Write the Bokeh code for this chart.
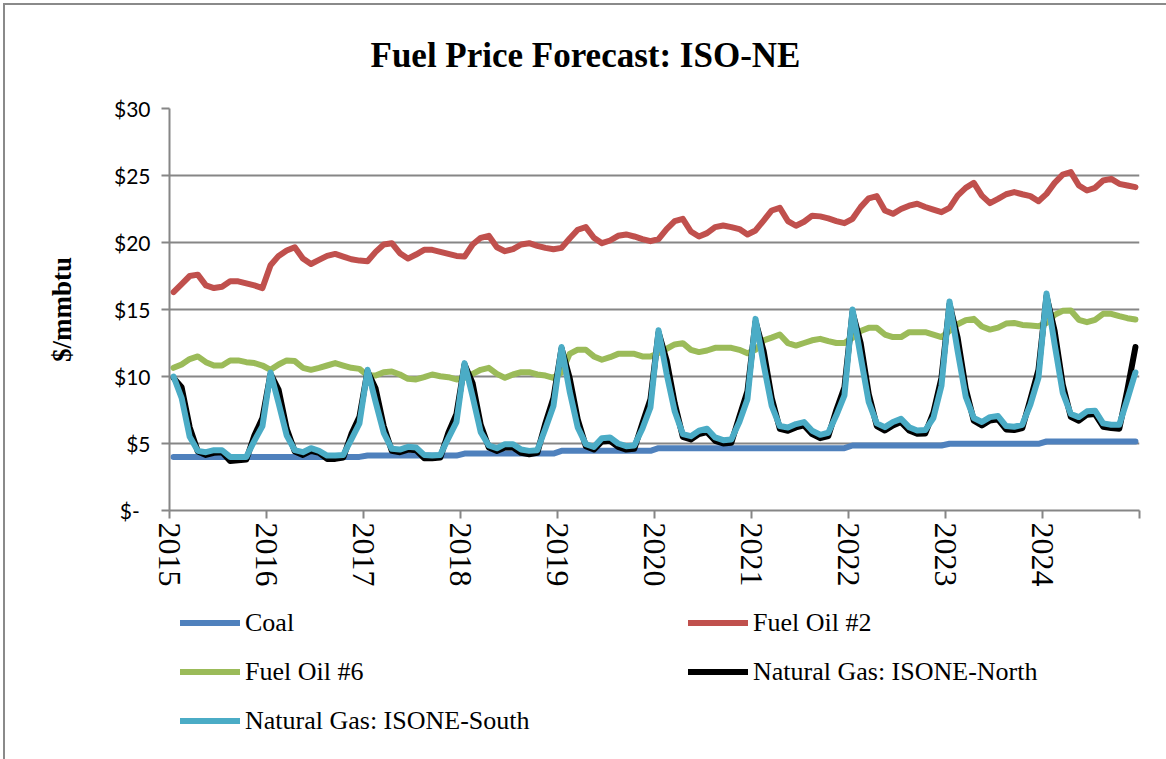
from bokeh.plotting import figure
from bokeh.layouts import column
from bokeh.models import FixedTicker, Legend, LegendItem, Range1d
from bokeh.embed import file_html
from bokeh.resources import INLINE

years = ["2015", "2016", "2017", "2018", "2019", "2020", "2021", "2022", "2023", "2024"]
month_index = list(range(120))

coal = [
    4.0, 4.0, 4.0, 4.0, 4.0, 4.0, 4.0, 4.0, 4.0, 4.0, 4.0, 4.0,
    4.0, 4.0, 4.0, 4.0, 4.0, 4.0, 4.0, 4.0, 4.0, 4.0, 4.0, 4.0,
    4.1, 4.1, 4.1, 4.1, 4.1, 4.1, 4.1, 4.1, 4.1, 4.1, 4.1, 4.1,
    4.25, 4.25, 4.25, 4.25, 4.25, 4.25, 4.25, 4.25, 4.25, 4.25, 4.25, 4.25,
    4.45, 4.45, 4.45, 4.45, 4.45, 4.45, 4.45, 4.45, 4.45, 4.45, 4.45, 4.45,
    4.65, 4.65, 4.65, 4.65, 4.65, 4.65, 4.65, 4.65, 4.65, 4.65, 4.65, 4.65,
    4.65, 4.65, 4.65, 4.65, 4.65, 4.65, 4.65, 4.65, 4.65, 4.65, 4.65, 4.65,
    4.85, 4.85, 4.85, 4.85, 4.85, 4.85, 4.85, 4.85, 4.85, 4.85, 4.85, 4.85,
    4.98, 4.98, 4.98, 4.98, 4.98, 4.98, 4.98, 4.98, 4.98, 4.98, 4.98, 4.98,
    5.15, 5.15, 5.15, 5.15, 5.15, 5.15, 5.15, 5.15, 5.15, 5.15, 5.15, 5.15,
]

fuel_oil_2 = [
    16.3, 16.9, 17.5, 17.6, 16.8, 16.6, 16.7, 17.1, 17.1, 16.95, 16.8, 16.6,
    18.3, 19.0, 19.4, 19.65, 18.8, 18.4, 18.7, 19.0, 19.15, 18.95, 18.75, 18.65,
    18.6, 19.3, 19.85, 19.95, 19.2, 18.8, 19.1, 19.45, 19.45, 19.3, 19.15, 19.0,
    18.95, 19.85, 20.35, 20.5, 19.65, 19.35, 19.5, 19.85, 19.95, 19.75, 19.6, 19.5,
    19.6, 20.3, 20.95, 21.15, 20.35, 19.95, 20.15, 20.5, 20.6, 20.45, 20.25, 20.1,
    20.25, 21.0, 21.6, 21.77, 20.82, 20.45, 20.7, 21.15, 21.27, 21.15, 21.0, 20.6,
    20.9, 21.64, 22.39, 22.59, 21.6, 21.25, 21.55, 22.0, 21.95, 21.8, 21.6, 21.44,
    21.77, 22.64, 23.3, 23.46, 22.39, 22.14, 22.5, 22.75, 22.89, 22.65, 22.45, 22.26,
    22.59, 23.5, 24.08, 24.45, 23.5, 22.94, 23.25, 23.6, 23.76, 23.6, 23.46, 23.08,
    23.63, 24.45, 25.07, 25.25, 24.25, 23.88, 24.08, 24.63, 24.75, 24.38, 24.25, 24.13,
]

fuel_oil_6 = [
    10.65, 10.9, 11.3, 11.5, 11.07, 10.82, 10.82, 11.2, 11.2, 11.07, 11.0, 10.82,
    10.5, 10.9, 11.2, 11.15, 10.65, 10.5, 10.65, 10.82, 11.0, 10.82, 10.65, 10.57,
    10.07, 10.07, 10.32, 10.37, 10.15, 9.83, 9.78, 9.95, 10.15, 10.02, 9.95, 9.78,
    9.9, 10.2, 10.5, 10.65, 10.2, 9.9, 10.15, 10.32, 10.32, 10.15, 10.07, 9.9,
    10.3, 11.69, 12.0, 12.0, 11.5, 11.25, 11.44, 11.69, 11.69, 11.69, 11.5, 11.5,
    11.75, 12.07, 12.39, 12.49, 11.99, 11.82, 11.94, 12.14, 12.14, 12.14, 11.99, 11.74,
    12.0, 12.69, 12.9, 13.13, 12.49, 12.31, 12.5, 12.7, 12.81, 12.64, 12.5, 12.5,
    12.9, 13.4, 13.63, 13.63, 13.13, 12.94, 12.94, 13.31, 13.31, 13.31, 13.13, 12.94,
    13.4, 13.9, 14.2, 14.3, 13.73, 13.5, 13.65, 13.95, 14.0, 13.85, 13.8, 13.75,
    14.0, 14.6, 14.9, 14.93, 14.23, 14.05, 14.23, 14.68, 14.68, 14.5, 14.35, 14.25,
]

gas_north = [
    9.9, 9.2, 6.2, 4.4, 4.15, 4.3, 4.35, 3.7, 3.75, 3.8, 5.6, 6.9,
    10.2, 9.0, 6.1, 4.4, 4.15, 4.45, 4.3, 3.85, 3.85, 3.95, 5.7, 7.0,
    10.4, 9.1, 6.3, 4.45, 4.35, 4.55, 4.5, 3.9, 3.9, 3.95, 5.8, 7.2,
    10.9, 9.5, 6.4, 4.7, 4.45, 4.7, 4.7, 4.3, 4.2, 4.3, 6.5, 8.4,
    12.1, 9.9, 6.8, 4.8, 4.55, 5.15, 5.2, 4.75, 4.55, 4.6, 6.5, 8.3,
    13.3, 11.2, 8.0, 5.5, 5.3, 5.7, 5.85, 5.2, 5.0, 5.05, 7.0, 8.9,
    14.1, 11.9, 8.4, 6.1, 5.95, 6.2, 6.35, 5.7, 5.4, 5.55, 7.5, 9.2,
    14.8, 12.5, 8.7, 6.3, 5.97, 6.35, 6.6, 5.97, 5.72, 5.75, 7.3, 9.9,
    15.4, 12.9, 9.1, 6.7, 6.35, 6.72, 6.8, 6.05, 6.0, 6.15, 8.3, 10.5,
    16.0, 13.4, 9.4, 7.0, 6.7, 7.15, 7.2, 6.25, 6.15, 6.1, 9.0, 12.2,
]

gas_south = [
    10.0, 8.4, 5.5, 4.45, 4.35, 4.5, 4.5, 4.0, 4.0, 4.0, 5.2, 6.3,
    10.3, 8.0, 5.6, 4.5, 4.35, 4.65, 4.45, 4.1, 4.1, 4.15, 5.3, 6.5,
    10.5, 8.1, 5.8, 4.6, 4.55, 4.75, 4.7, 4.15, 4.1, 4.15, 5.4, 6.6,
    11.0, 8.5, 5.85, 4.85, 4.65, 4.95, 4.95, 4.55, 4.45, 4.5, 6.1, 7.8,
    12.2, 8.9, 6.2, 4.95, 4.75, 5.4, 5.45, 5.0, 4.8, 4.85, 6.1, 7.7,
    13.45, 10.2, 7.4, 5.7, 5.55, 5.95, 6.1, 5.45, 5.25, 5.3, 6.6, 8.3,
    14.3, 10.9, 7.8, 6.3, 6.2, 6.45, 6.6, 5.95, 5.65, 5.8, 7.1, 8.6,
    15.0, 11.5, 8.1, 6.5, 6.22, 6.6, 6.84, 6.22, 5.97, 6.0, 6.9, 9.3,
    15.6, 11.9, 8.5, 6.9, 6.6, 6.97, 7.05, 6.3, 6.25, 6.4, 7.9, 9.9,
    16.2, 12.4, 8.8, 7.2, 6.97, 7.4, 7.45, 6.5, 6.4, 6.4, 8.3, 10.3,
]

series_names = ["Coal", "Fuel Oil #2", "Fuel Oil #6",
                "Natural Gas: ISONE-North", "Natural Gas: ISONE-South"]
series_colors = ["#4F81BD", "#C0504D", "#9BBB59", "#000000", "#4BACC6"]
series_values = [coal, fuel_oil_2, fuel_oil_6, gas_north, gas_south]

y_ticks = [0, 5, 10, 15, 20, 25, 30]
y_tick_labels = ["$-\u00a0\u00a0", "$5", "$10", "$15", "$20", "$25", "$30"]

# points sit in the middle of each month on a monthly date axis
x = [m + 0.5 for m in month_index]
x_ticks = [12 * i for i in range(11)]

GRID = "#868686"
FRAME = "#8a8a8a"
SERIF = "Liberation Serif"
LW = 6

# chart-area border (left and top edges) drawn as CSS background lines
grad = f"linear-gradient({FRAME}, {FRAME})"
main_bg = {
    "background-color": "white",
    "background-image": f"{grad}, {grad}",
    "background-position": "3px 3px, 3px 3px",
    "background-size": "2px 100%, 100% 2px",
    "background-repeat": "no-repeat, no-repeat",
}
strip_bg = {
    "background-color": "white",
    "background-image": grad,
    "background-position": "3px 0px",
    "background-size": "2px 100%",
    "background-repeat": "no-repeat",
}

# ---------------- main chart ----------------
H1 = 595
p = figure(width=1166, height=H1, output_backend="svg", toolbar_location=None,
           x_range=Range1d(0, 120), y_range=Range1d(0, 30),
           min_border_left=169, min_border_right=27, min_border_top=107,
           min_border_bottom=H1 - 510, styles=main_bg)
p.background_fill_color = "white"
p.border_fill_alpha = 0
p.outline_line_color = None

p.title.text = "Fuel Price Forecast: ISO-NE"
p.title.text_font = SERIF
p.title.text_font_size = "35px"
p.title.text_font_style = "bold"
p.title.align = "left"
p.title.offset = 201
p.title.standoff = 67
p.title.text_color = "black"

p.yaxis.ticker = FixedTicker(ticks=y_ticks)
p.yaxis.major_label_overrides = {t: l for t, l in zip(y_ticks, y_tick_labels)}
p.yaxis.axis_line_color = GRID
p.yaxis.axis_line_width = 2
p.yaxis.major_tick_line_color = GRID
p.yaxis.major_tick_line_width = 2
p.yaxis.major_tick_in = 0
p.yaxis.major_tick_out = 8
p.yaxis.minor_tick_line_color = None
p.yaxis.major_label_text_font = "Lato"
p.yaxis.major_label_text_font_size = "21px"
p.yaxis.major_label_text_color = "black"
p.yaxis.major_label_standoff = 11
p.yaxis.axis_label = "$/mmbtu"
p.yaxis.axis_label_text_font = SERIF
p.yaxis.axis_label_text_font_style = "bold"
p.yaxis.axis_label_text_font_size = "27px"
p.yaxis.axis_label_text_color = "black"
p.yaxis.axis_label_standoff = 34

p.xaxis.ticker = FixedTicker(ticks=x_ticks)
p.xaxis.major_label_overrides = {12 * i: (years[i] if i < len(years) else "") for i in range(11)}
p.xaxis.major_label_orientation = "vertical"
p.xaxis.axis_line_color = GRID
p.xaxis.axis_line_width = 2
p.xaxis.major_tick_line_color = GRID
p.xaxis.major_tick_line_width = 2
p.xaxis.major_tick_in = 0
p.xaxis.major_tick_out = 8
p.xaxis.minor_tick_line_color = None
p.xaxis.major_label_text_font = SERIF
p.xaxis.major_label_text_font_size = "32px"
p.xaxis.major_label_text_color = "black"
p.xaxis.major_label_standoff = 4

p.xgrid.grid_line_color = None
p.ygrid.ticker = FixedTicker(ticks=y_ticks)
p.ygrid.grid_line_color = GRID
p.ygrid.grid_line_width = 2

for vals, col in zip(series_values, series_colors):
    p.line(x, vals, line_color=col, line_width=LW, line_join="round", line_cap="round")

# ---------------- legend strip below ----------------
# (its frame is aligned with the main frame by the column layout; the
#  series are drawn out of this strip's visible range so only the
#  legend swatches show)
H2 = 759 - H1
pl = figure(width=1166, height=H2, output_backend="svg", toolbar_location=None,
            x_range=Range1d(-20, -10), y_range=Range1d(-20, -10),
            x_axis_location=None, y_axis_location=None, min_border=0,
            styles=strip_bg)
pl.grid.visible = False
pl.outline_line_color = None
pl.background_fill_alpha = 0
pl.border_fill_alpha = 0

swatches = [pl.line(x, vals, line_color=col, line_width=LW, line_cap="round")
            for vals, col in zip(series_values, series_colors)]

def make_legend(idx, loc):
    return Legend(items=[LegendItem(label=series_names[i], renderers=[swatches[i]]) for i in idx],
                  location=loc, orientation="vertical",
                  label_text_font=SERIF, label_text_font_size="26px", label_text_color="black",
                  glyph_width=60, glyph_height=31, label_height=31, spacing=18,
                  padding=0, margin=0, label_standoff=5,
                  background_fill_alpha=0, border_line_color=None)

pl.add_layout(make_legend([0, 2, 4], (11, 23)))
pl.add_layout(make_legend([1, 3], (519, 72)))

layout = column(p, pl, spacing=0)
open("out.html", "w").write(file_html(layout, INLINE))
